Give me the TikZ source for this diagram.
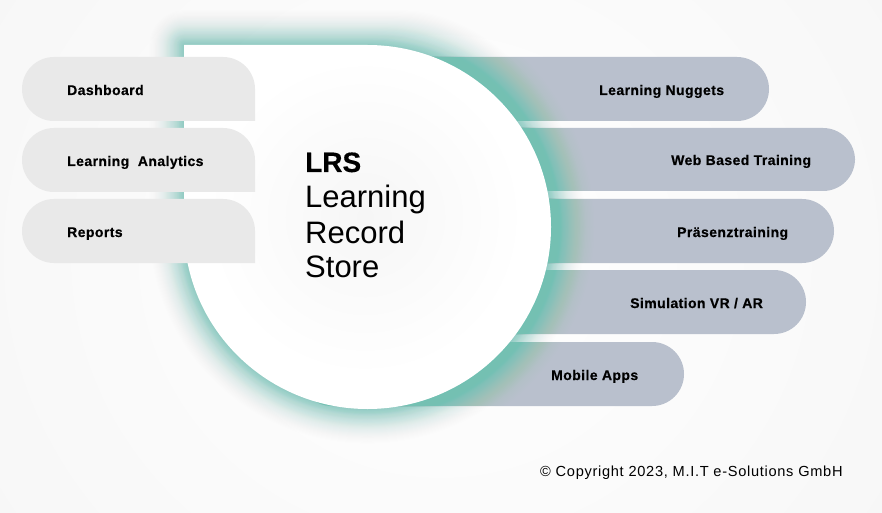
\documentclass[tikz,border=0pt]{standalone}
\usepackage{fontspec}
\setmainfont{Liberation Sans}[BoldFeatures={FakeBold=0.4}]
\usepackage{xcolor}
\definecolor{glowteal}{HTML}{4FC4B2}
\definecolor{glowslate}{HTML}{74C0B8}
\definecolor{pillblue}{HTML}{B9C0CD}
\definecolor{pillgrey}{HTML}{E9E9E9}
\definecolor{pagegrey}{HTML}{F4F4F4}
\definecolor{textshade}{HTML}{F6F6F6}
% circle with one square corner, grown by #1
\newcommand{\hubshape}[1]{({184-#1},285) [rounded corners={#1*1pt}] -- ({184-#1},{467+#1}) -- (367.5,{467+#1}) [sharp corners] arc[start angle=90,end angle=-180,x radius={183.5pt+#1pt},y radius={182pt+#1pt}] -- cycle}
\tikzset{
    leftpill/.style={fill=pillgrey},
    rightpill/.style={fill=pillblue, rounded corners=32pt},
    pilltext/.style={anchor=base west, inner sep=0pt, font=\fontsize{14}{16}\selectfont\bfseries\addfontfeature{LetterSpace=3}},
    hubtext/.style={anchor=base west, inner sep=0pt, font=\fontsize{31}{36}\selectfont},
}
\begin{document}
\begin{tikzpicture}[x=1pt,y=1pt]
    \useasboundingbox (0,0) rectangle (882,512);
    % page background
    \shade[inner color=white, outer color=pagegrey] (-300,-440) rectangle (1182,952);
    % pills on the right
    \fill[rightpill] (300,455) rectangle (769,391);
    \fill[rightpill] (300,384) rectangle (855,321);
    \fill[rightpill] (300,313) rectangle (834,249);
    \fill[rightpill] (300,242) rectangle (806,178);
    \fill[rightpill] (300,170) rectangle (684,106);
    % glow around the hub
    \foreach \t in {1,...,40} {
        \pgfmathsetmacro{\grow}{1.05*\t}
        \pgfmathsetmacro{\fade}{0.055*(1-\t/41)^2}
        \fill[glowteal, fill opacity=\fade] \hubshape{\grow};
    }
    % longer glow, only on the pills
    \begin{scope}
        \clip (370,455) rectangle (700,391) (370,384) rectangle (700,321) (370,313) rectangle (700,249) (370,242) rectangle (700,178) (370,170) rectangle (600,106);
        \foreach \t in {1,...,40} {
            \pgfmathsetmacro{\grow}{1.5*\t}
            \pgfmathsetmacro{\fade}{0.025*(1-\t/41)^2}
            \fill[glowslate, fill opacity=\fade] \hubshape{\grow};
        }
    \end{scope}
    % hub
    \fill[white] \hubshape{0};
    \shade[inner color=textshade, outer color=white] (365,295) circle (160pt);
    % pills on the left
    \fill[leftpill] (255,391) -- (100,391) [rounded corners=32pt] -- (22,391) -- (22,455) -- (255,455) [sharp corners] -- cycle;
    \fill[leftpill] (255,320) -- (100,320) [rounded corners=32pt] -- (22,320) -- (22,384) -- (255,384) [sharp corners] -- cycle;
    \fill[leftpill] (255,249) -- (100,249) [rounded corners=32pt] -- (22,249) -- (22,313) -- (255,313) [sharp corners] -- cycle;
    % labels
    \node[pilltext] (dashboard) at (67,417) {Dashboard};
    \node[pilltext] (analytics) at (67,346) {Learning\ \ Analytics};
    \node[pilltext] (reports) at (67,275) {Reports};
    \node[pilltext] (nuggets) at (599,417) {Learning Nuggets};
    \node[pilltext] (webbased) at (671,347) {Web Based Training};
    \node[pilltext] (praesenz) at (677,275) {Präsenztraining};
    \node[pilltext] (simulation) at (630,204) {Simulation VR / AR};
    \node[pilltext] (mobile) at (551,132) {Mobile Apps};
    \node[hubtext, font=\fontsize{28}{36}\selectfont\bfseries] (lrs) at (305,340) {LRS};
    \node[hubtext] (learning) at (305,305) {Learning};
    \node[hubtext] (record) at (305,269) {Record};
    \node[hubtext] (store) at (305,235) {Store};
    \node[anchor=base west, inner sep=0pt, font=\fontsize{14.6}{18}\selectfont\addfontfeature{LetterSpace=4.8}] (copyright) at (540,36) {© Copyright 2023, M.I.T e-Solutions GmbH};
\end{tikzpicture}
\end{document}
